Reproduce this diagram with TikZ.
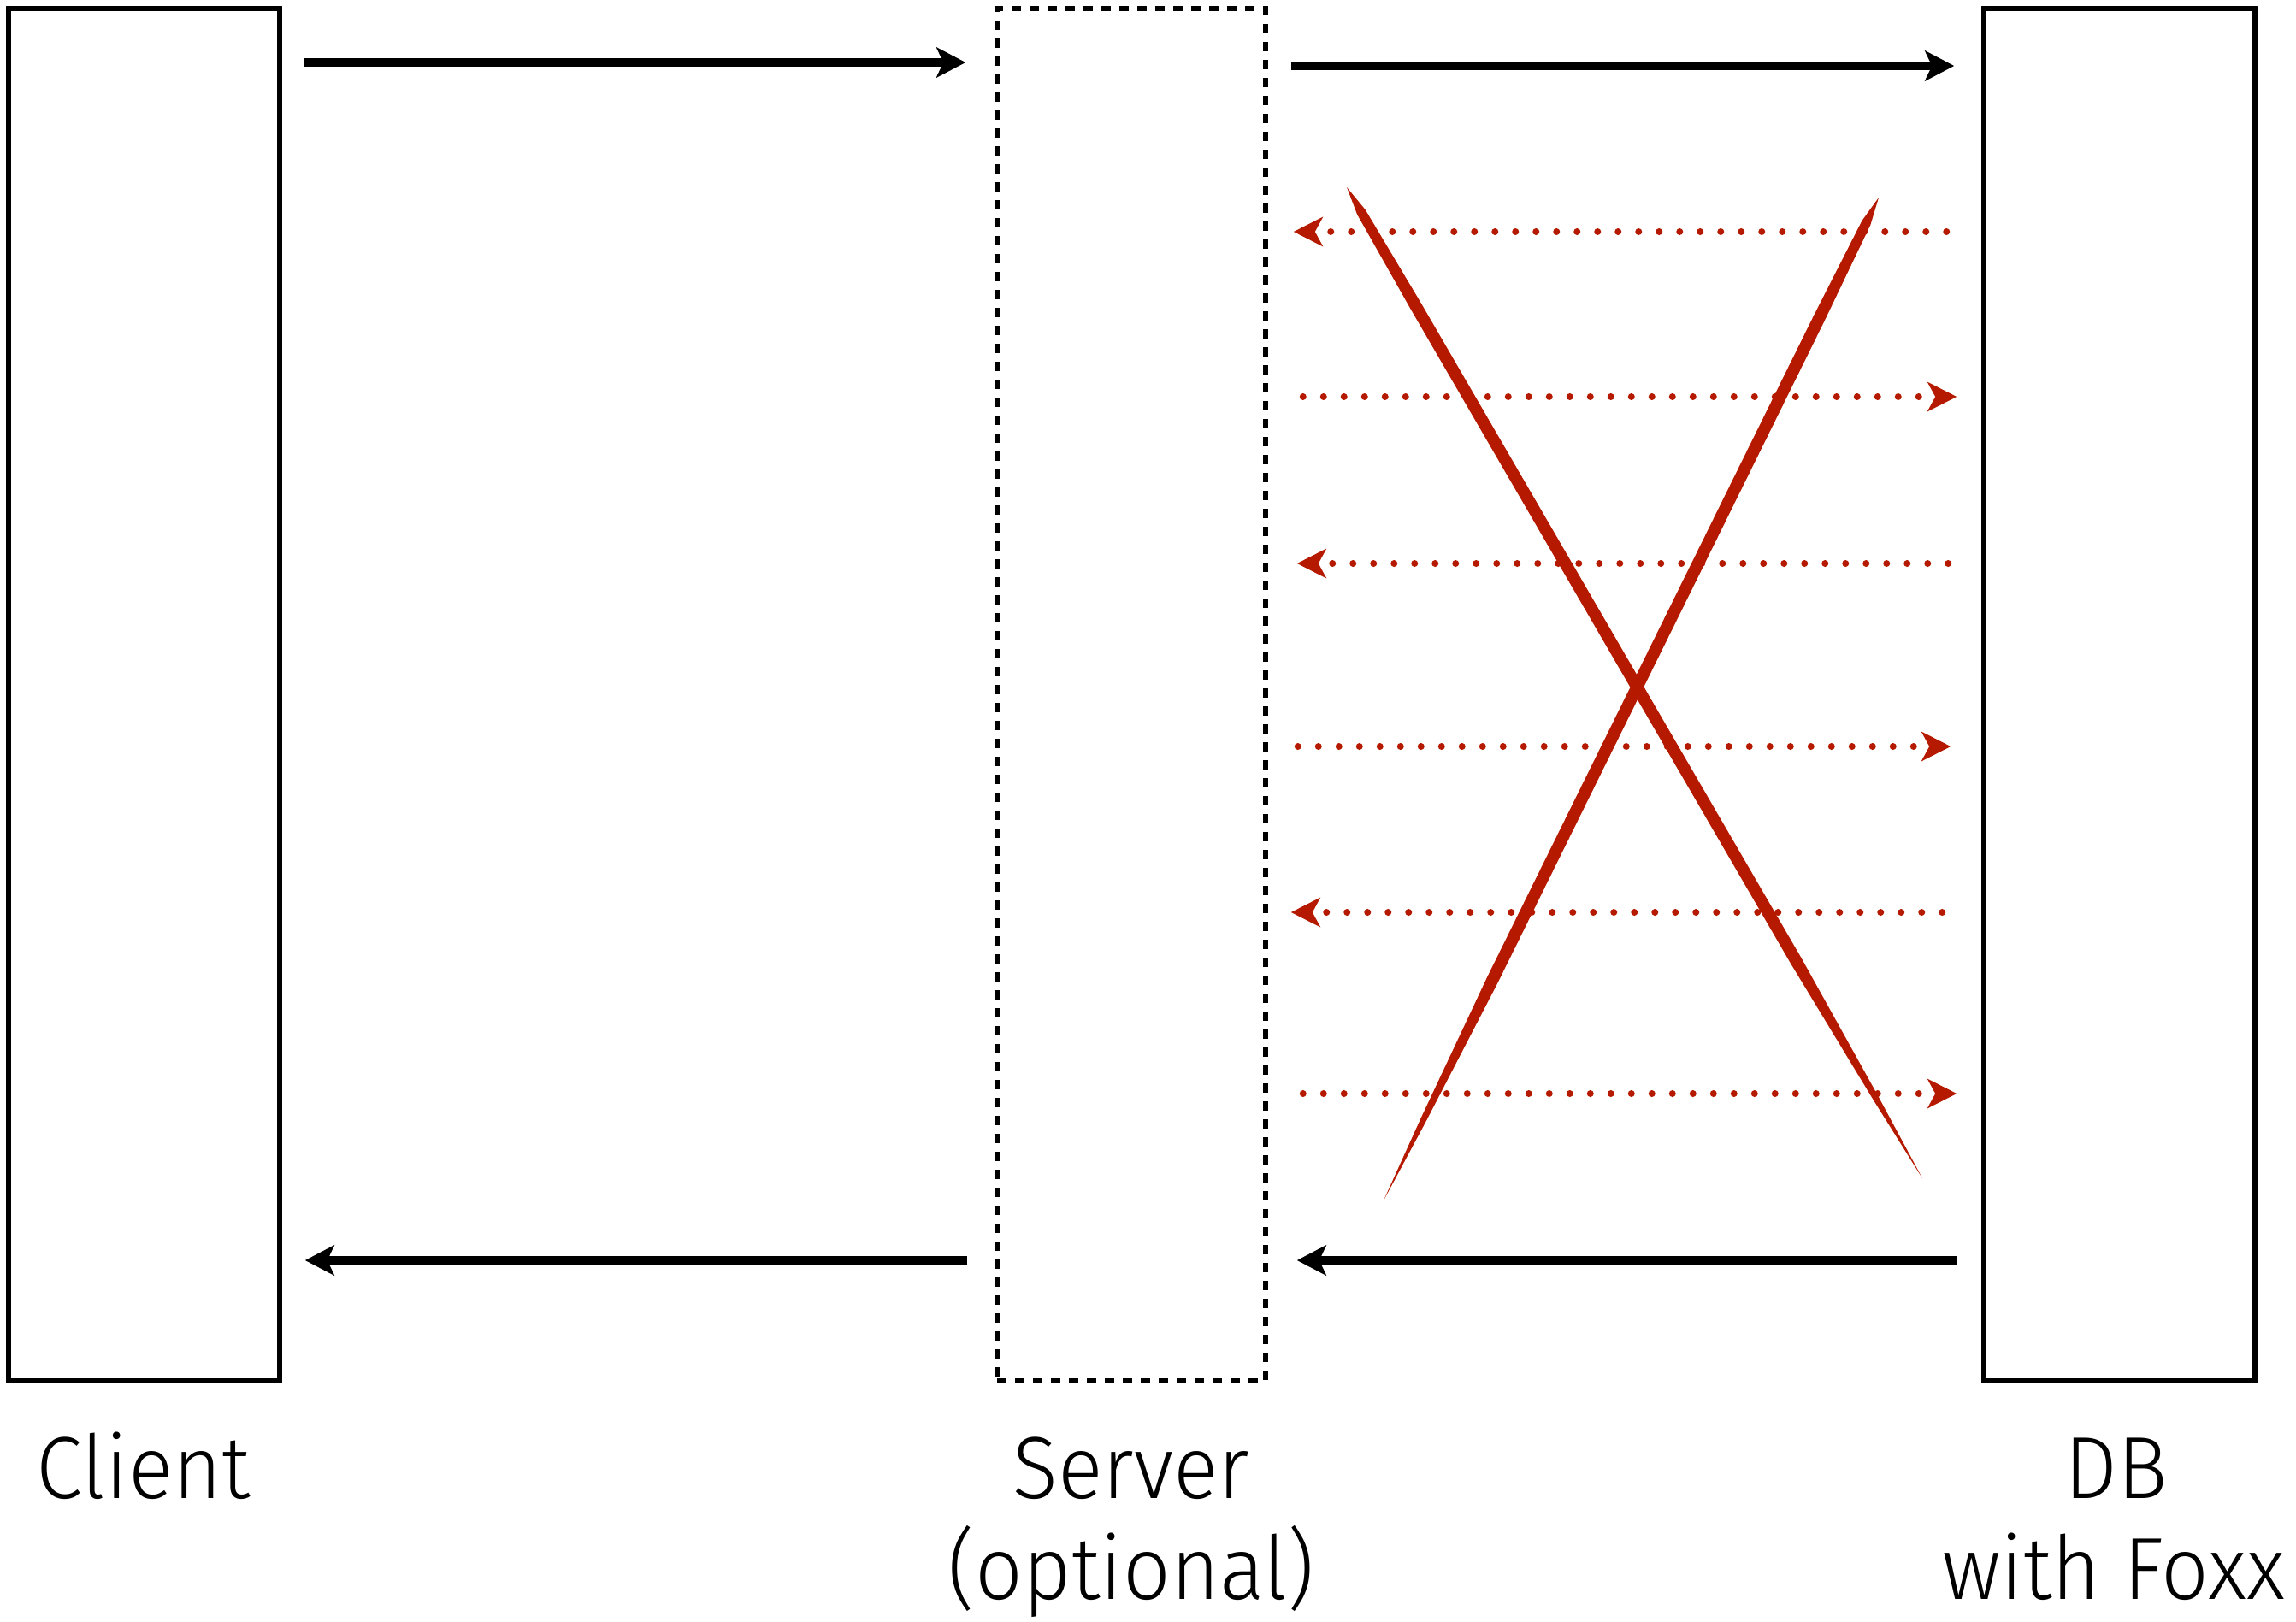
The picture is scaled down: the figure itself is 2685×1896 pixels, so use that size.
\documentclass[tikz,border=0pt]{standalone}
\usepackage{fontspec}
\setmainfont{Fira Sans}[UprightFont=* Light,FakeStretch=0.95]
\usetikzlibrary{arrows.meta,calc}
\definecolor{crossred}{RGB}{181,26,0}
\begin{document}
\begin{tikzpicture}[x=1pt,y=-1pt,
  blk/.style={draw=black,line width=5.5pt,inner sep=0pt},
  dbox/.style={draw=black,line width=5.5pt,inner sep=0pt,dash pattern=on 11pt off 10pt},
  arr/.style={draw=black,line width=9.5pt,-{Stealth[length=34pt,width=35pt,inset=8pt]}},
  rarr/.style={draw=crossred,line width=8pt,line cap=round,dash pattern=on 0pt off 24pt,
     -{Stealth[length=34pt,width=34pt,inset=9pt,fill=crossred,color=crossred]}},
  lbl/.style={inner sep=0pt,anchor=base,font=\fontsize{103}{120}\selectfont}]
\useasboundingbox (0,0) rectangle (2685,1896);
% boxes
\node[blk,minimum width=317pt,minimum height=1605pt] (client) at (168.5,812.5) {};
\node[dbox,minimum width=314pt,minimum height=1605pt] (server) at (1323,812.5) {};
\node[blk,minimum width=317pt,minimum height=1605pt] (db) at (2478.5,812.5) {};
% black arrows
\draw[arr] ([xshift=26pt]client.east |- 0,73) -- ([xshift=-34pt]server.west |- 0,73);
\draw[arr] ([xshift=27pt]server.east |- 0,77) -- ([xshift=-32pt]db.west |- 0,77);
\draw[arr] ([xshift=-32pt]server.west |- 0,1474) -- ([xshift=27pt]client.east |- 0,1474);
\draw[arr] ([xshift=-29pt]db.west |- 0,1474) -- ([xshift=34pt]server.east |- 0,1474);
% red dotted arrows
\draw[rarr] ([xshift=-41pt]db.west |- 0,271) -- ([xshift=30pt]server.east |- 0,271);
\draw[rarr] ([xshift=41pt]server.east |- 0,464) -- ([xshift=-29pt]db.west |- 0,464);
\draw[rarr] ([xshift=-39pt]db.west |- 0,659) -- ([xshift=34pt]server.east |- 0,659);
\draw[rarr] ([xshift=35pt]server.east |- 0,873) -- ([xshift=-36pt]db.west |- 0,873);
\draw[rarr] ([xshift=-46pt]db.west |- 0,1067) -- ([xshift=27pt]server.east |- 0,1067);
\draw[rarr] ([xshift=41pt]server.east |- 0,1279) -- ([xshift=-29pt]db.west |- 0,1279);
% cross strokes
\coordinate (a1) at (1575,219);
\coordinate (b1) at (2248,1378);
\coordinate (a2) at (2197,231);
\coordinate (b2) at (1618,1404);
\foreach \a/\b in {a1/b1,a2/b2}{
  \fill[crossred]
    (\a)
    -- ($(\a)!0.025!(\b)!5.5pt!90:(\b)$)
    -- ($(\a)!0.12!(\b)!7pt!90:(\b)$)
    -- ($(\a)!0.78!(\b)!7pt!90:(\b)$)
    -- ($(\a)!0.92!(\b)!3.5pt!90:(\b)$)
    -- (\b)
    -- ($(\a)!0.92!(\b)!3.5pt!-90:(\b)$)
    -- ($(\a)!0.78!(\b)!7pt!-90:(\b)$)
    -- ($(\a)!0.12!(\b)!7pt!-90:(\b)$)
    -- ($(\a)!0.025!(\b)!5.5pt!-90:(\b)$)
    -- cycle;
}
% labels
\node[lbl] (clientlbl) at (168,1752) {Client};
\node[lbl] (serverlbl) at (1323,1752) {Server};
\node[lbl] (serverlbl2) at (1323,1870) {(optional)};
\node[lbl] (dblbl) at (2475,1752) {DB};
\node[lbl] (dblbl2) at (2472,1870) {with Foxx};
\end{tikzpicture}
\end{document}
